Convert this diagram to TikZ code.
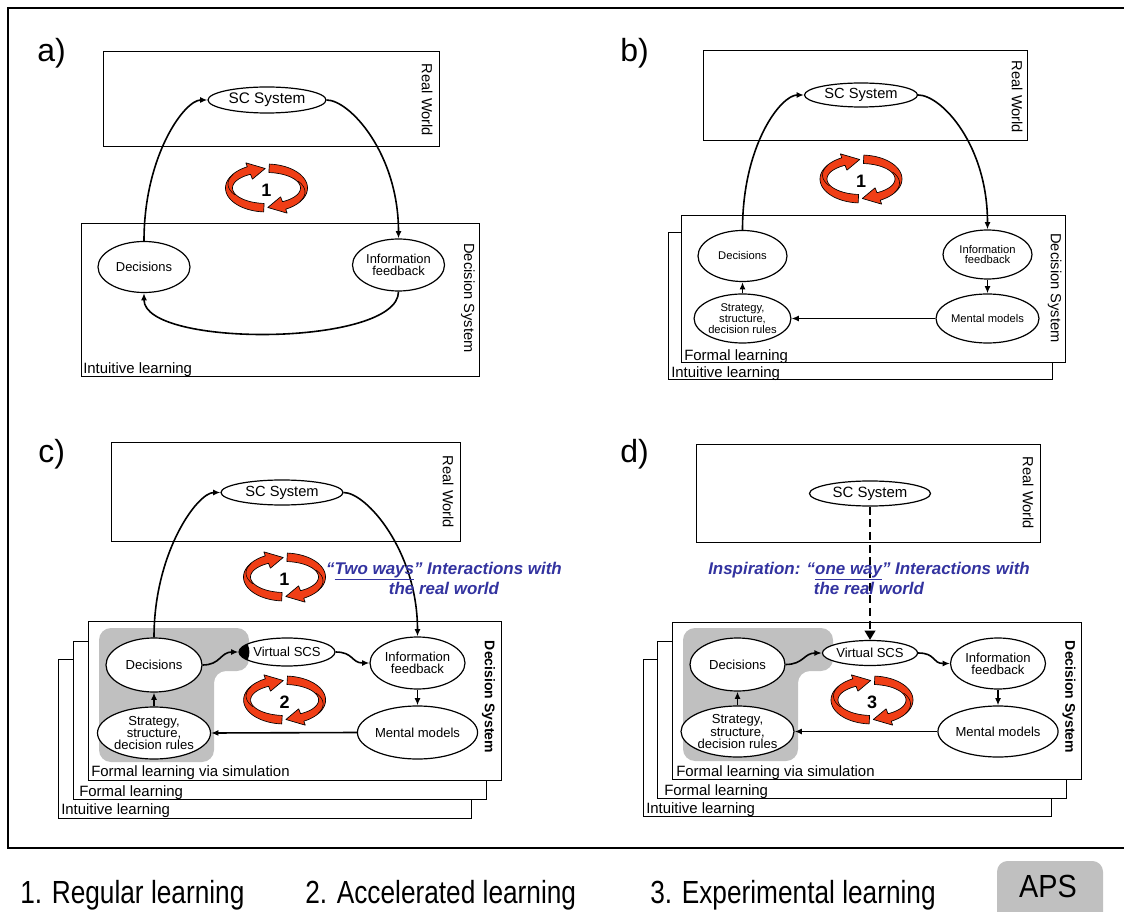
\documentclass[tikz,border=0pt]{standalone}
\usepackage{fontspec}
\setmainfont{Liberation Sans}
\usepackage{graphicx}
\usetikzlibrary{shapes.geometric,arrows.meta}
\definecolor{cycred}{RGB}{240,62,22}
\definecolor{txtblue}{RGB}{51,51,160}
\definecolor{simgray}{RGB}{192,192,192}
\tikzset{
  fs/.style 2 args={font=\fontsize{#1}{#2}\selectfont},
  el/.style 2 args={ellipse, draw, fill=white, line width=0.9pt, inner sep=0pt, align=center, minimum width=#1*0.75pt, minimum height=#2*0.75pt},
  boxst/.style={draw, fill=white, line width=0.75pt},
  lab/.style={font=\fontsize{11}{12}\selectfont, inner sep=0pt},
  labb/.style={font=\bfseries\fontsize{10.5}{12}\selectfont, inner sep=0pt},
  lay/.style={font=\fontsize{11.2}{12}\selectfont, inner sep=0pt, anchor=base west},
  plab/.style={font=\fontsize{24}{26}\selectfont, inner sep=0pt, anchor=base west},
  cycnum/.style={font=\bfseries\fontsize{13.5}{14}\selectfont, inner sep=0pt},
  conn/.style={line width=1.2pt, -{Latex[length=5.5pt,width=4.5pt]}},
  dashconn/.style={line width=1.5pt, dash pattern=on 6pt off 3.5pt, -{Triangle[length=7pt,width=8pt]}},
  bluetxt/.style={font=\bfseries\itshape\fontsize{12.7}{15}\selectfont, text=txtblue, align=center, inner sep=0pt},
  legend/.style={font=\fontsize{24}{26}\selectfont, inner sep=0pt, anchor=base west},
  cycband/.style={fill=cycred, draw=black, line width=0.5pt, line join=round},
}
% one half of the circular arrow, y axis pointing down on the page
\newcommand{\halfband}{%
  \filldraw[cycband]
    plot[domain=-86:62, samples=40] ({41*cos(\x)},{24*sin(\x)})
    -- ({44*cos(62)},{28.5*sin(62)})
    -- ({37.5*cos(88)},{19.5*sin(88)})
    -- ({30*cos(62)},{10*sin(62)})
    -- plot[domain=62:-86, samples=40] ({34*cos(\x)},{15.5*sin(\x)})
    -- cycle;
  \draw[line width=0.4pt] plot[domain=-35:30, samples=20] ({38.5*cos(\x)},{4+19*sin(\x)});
}
\newcommand{\cycicon}[4]{%
  \begin{scope}[shift={(#1,#2)}]
    \halfband
  \end{scope}
  \begin{scope}[shift={(#1,#2)}, rotate=180]
    \halfband
  \end{scope}
  \node[cycnum] (#4) at (#1,#2+2) {#3};
}
\begin{document}
\begin{tikzpicture}[x=0.75pt,y=-0.75pt]
\useasboundingbox (0,0) rectangle (1124,912);
\clip (0,0) rectangle (1124,912);
\fill[white] (0,0) rectangle (1124,912);
\draw[line width=1.3pt] (1140,8) -- (8,8) -- (8,848) -- (1140,848);

% ================= panel a =================
\node[plab] (pa) at (37,62) {a)};
\draw[boxst] (103,52) rectangle (439,147);
\draw[boxst] (81,224) rectangle (479,377);
\node[el={118}{26}, fs={11.5}{12}] (aSC) at (267,100) {SC System};
\node[el={92}{51}, fs={9.7}{9}] (aDec) at (144,267) {Decisions};
\node[el={92}{52}, fs={9.7}{9}] (aInf) at (398.5,265) {Information\\feedback};
\node[lab, rotate=-90] (aRW) at (427,100) {Real World};
\node[lab, rotate=-90] (aDS) at (468,298) {Decision System};
\node[lay] (aIL) at (83,374) {Intuitive learning};
\draw[conn] (aDec.north) .. controls +(0,-85) and +(-23,0) .. (aSC.west);
\draw[conn] (aSC.east) .. controls +(23,0) and +(0,-85) .. (aInf.north);
\draw[conn] (aInf.south) .. controls +(0,55) and +(0,55) .. (aDec.south);
\cycicon{266.5}{188}{1}{aN}

% ================= panel b =================
\node[plab] (pb) at (620,62) {b)};
\draw[boxst] (703,51) rectangle (1027,141);
\draw[boxst] (668,233) rectangle (1052,380);
\draw[boxst] (681,216) rectangle (1065,363);
\node[el={113}{24}, fs={11}{12}] (bSC) at (861,95) {SC System};
\node[el={89}{51}, fs={8.4}{8.2}] (bDec) at (742.5,256) {Decisions};
\node[el={89}{49}, fs={8.4}{8.2}] (bInf) at (987.5,254.5) {Information\\feedback};
\node[el={89}{49}, fs={8.4}{8.2}] (bMen) at (987.5,318.5) {Mental models};
\node[el={89}{49}, fs={8.4}{8.2}] (bStr) at (742.5,318.5) {Strategy,\\structure,\\decision rules};
\node[lab, rotate=-90] (bRW) at (1017,97) {Real World};
\node[lab, rotate=-90] (bDS) at (1054.6,288) {Decision System};
\node[lay] (bFL) at (684,361) {Formal learning};
\node[lay] (bIL) at (671,377.5) {Intuitive learning};
\draw[conn] (bDec.north) .. controls +(0,-85) and +(-23,0) .. (bSC.west);
\draw[conn] (bSC.east) .. controls +(23,0) and +(0,-85) .. (bInf.north);
\draw[conn] (bInf.south) -- (bMen.north);
\draw[conn] (bMen.west) -- (bStr.east);
\draw[conn] (bStr.north) -- (bDec.south);
\cycicon{861}{179}{1}{bN}

% ================= panel c =================
\node[plab] (pc) at (38,463) {c)};
\draw[boxst] (111,443) rectangle (460,541);
\draw[boxst] (58,659) rectangle (471,818);
\draw[boxst] (73,641) rectangle (486,799);
\draw[boxst] (88,621) rectangle (501,780);
\fill[simgray, rounded corners=9] (99,628) -- (249,628) -- (249,671) -- (214,671) -- (214,762) -- (99,762) -- cycle;
\node[el={122}{25}, fs={11}{12}] (cSC) at (282,492.5) {SC System};
\node[el={96}{54}, fs={9.8}{9.2}] (cDec) at (154,665) {Decisions};
\node[el={96}{28}, fs={9.8}{9.2}] (cVir) at (287,652) {Virtual SCS};
\node[el={95}{52}, fs={9.8}{9.2}] (cInf) at (417.5,663) {Information\\feedback};
\node[el={95}{53}, fs={9.8}{9.2}] (cMen) at (417.5,732.5) {Mental models};
\node[el={96}{52}, fs={9.8}{9.2}] (cStr) at (154,733) {Strategy,\\structure,\\decision rules};
\begin{scope}
  \clip (cVir.center) ellipse [x radius=48, y radius=14];
  \fill (cVir.west) ++(-8,0) circle [radius=19];
\end{scope}
\node[lab, rotate=-90] (cRW) at (448,492) {Real World};
\node[labb, rotate=-90] (cDS) at (488.6,697) {Decision System};
\node[lay] (cFS) at (91,776) {Formal learning via simulation};
\node[lay] (cFL) at (79,796) {Formal learning};
\node[lay] (cIL) at (61,814) {Intuitive learning};
\draw[conn] (cDec.north) .. controls +(0,-85) and +(-23,0) .. (cSC.west);
\draw[conn] (cSC.east) .. controls +(23,0) and +(0,-85) .. (cInf.north);
\draw[conn] (cDec.east) .. controls +(18,0) and +(-18,0) .. (cVir.west);
\draw[conn] (cVir.east) .. controls +(18,0) and +(-18,0) .. (cInf.west);
\draw[conn] (cInf.south) -- (cMen.north);
\draw[conn] (cMen.west) -- (cStr.east);
\draw[conn] (cStr.north) -- (cDec.south);
\cycicon{284.5}{577}{1}{cN1}
\cycicon{284.6}{700}{2}{cN2}
\node[bluetxt] (cTxt) at (444,578) {“\underline{Two ways}” Interactions with\\the real world};

% ================= panel d =================
\node[plab] (pd) at (620,463) {d)};
\draw[boxst] (696,445) rectangle (1040,542);
\draw[boxst] (643.5,659) rectangle (1051,816);
\draw[boxst] (657,641) rectangle (1066,798);
\draw[boxst] (672.6,622) rectangle (1081,779);
\fill[simgray, rounded corners=9] (683,628) -- (833,628) -- (833,671) -- (798,671) -- (798,761) -- (683,761) -- cycle;
\node[el={121}{25}, fs={11.2}{12}] (dSC) at (870,493.5) {SC System};
\node[el={95}{53}, fs={9.8}{9.2}] (dDec) at (737.5,664.5) {Decisions};
\node[el={94}{25}, fs={9.8}{9.2}] (dVir) at (870,653) {Virtual SCS};
\node[el={95}{51}, fs={9.8}{9.2}] (dInf) at (998,663.5) {Information\\feedback};
\node[el={95}{51}, fs={9.8}{9.2}] (dMen) at (998,731.5) {Mental models};
\node[el={95}{51}, fs={9.8}{9.2}] (dStr) at (737.5,731.5) {Strategy,\\structure,\\decision rules};
\node[lab, rotate=-90] (dRW) at (1028,493) {Real World};
\node[labb, rotate=-90] (dDS) at (1069,697) {Decision System};
\node[lay] (dFS) at (676,776) {Formal learning via simulation};
\node[lay] (dFL) at (664,795) {Formal learning};
\node[lay] (dIL) at (646,813) {Intuitive learning};
\draw[dashconn] (dSC.south) -- (dVir.north);
\draw[conn] (dDec.east) .. controls +(18,0) and +(-18,0) .. (dVir.west);
\draw[conn] (dVir.east) .. controls +(18,0) and +(-18,0) .. (dInf.west);
\draw[conn] (dInf.south) -- (dMen.north);
\draw[conn] (dMen.west) -- (dStr.east);
\draw[conn] (dStr.north) -- (dDec.south);
\cycicon{872}{700}{3}{dN}
\node[bluetxt] (dTxt) at (869,578) {Inspiration: “\underline{one way}” Interactions with\\the real world};

% ================= legend =================
\node[legend] (l1) at (20,903) {\scalebox{0.82}[1]{1. Regular learning}};
\node[legend] (l2) at (305,903) {\scalebox{0.82}[1]{2. Accelerated learning}};
\node[legend] (l3) at (650,903) {\scalebox{0.82}[1]{3. Experimental learning}};
\fill[simgray, rounded corners=8] (997,861) rectangle (1103,935);
\node[font=\fontsize{24}{26}\selectfont, inner sep=0pt, anchor=base] (aps) at (1048,897) {\scalebox{0.9}[1]{APS}};
\end{tikzpicture}
\end{document}
